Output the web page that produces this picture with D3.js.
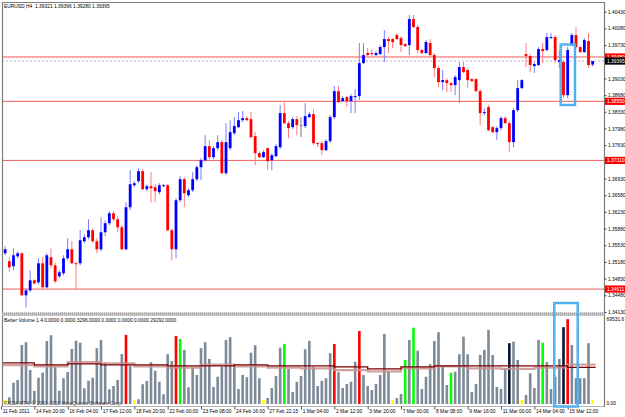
<!DOCTYPE html>
<html>
<head>
<meta charset="utf-8">
<script src="https://cdn.jsdelivr.net/npm/d3@7.9.0/dist/d3.min.js"></script>
<style>
html, body { margin: 0; padding: 0; background: #fff; }
svg { display: block; font-family: "Liberation Sans", Arial, sans-serif; }
</style>
</head>
<body>
<svg id="chart" width="625" height="417"></svg>
<script>
// EURUSD H4 candles, 11 Feb 2011 -> 15 Mar 2011
const opens = [
  1.35488,1.35362,1.35194,1.35089,1.35299,1.35362,1.34480,1.34585,1.34795,1.34753,
  1.35152,1.34648,1.35278,1.35110,1.34879,1.34942,1.35257,1.35446,1.35152,1.35152,
  1.35614,1.35698,1.35845,1.35614,1.35446,1.35803,1.35992,1.36202,1.36076,1.35908,
  1.35446,1.36328,1.36790,1.36874,1.37084,1.36706,1.36769,1.36748,1.36643,1.36769,
  1.36790,1.35845,1.35446,1.36475,1.36916,1.36580,1.36685,1.36916,1.37168,1.37315,
  1.37609,1.37378,1.37567,1.37693,1.37042,1.37567,1.37882,1.38008,1.38155,1.38197,
  1.38176,1.37819,1.37462,1.37378,1.37567,1.37315,1.37399,1.37588,1.38302,1.38092,
  1.38008,1.38176,1.38050,1.38029,1.38218,1.38281,1.37672,1.37672,1.37525,1.37714,
  1.38218,1.38764,1.38554,1.38638,1.38554,1.38638,1.38659,1.39352,1.39562,1.39562,
  1.39520,1.39541,1.39688,1.39856,1.39856,1.39940,1.39877,1.39751,1.39730,1.40276,
  1.40108,1.39625,1.39562,1.39772,1.39520,1.39247,1.38953,1.38995,1.38932,1.38890,
  1.38995,1.39268,1.39205,1.39016,1.39016,1.38764,1.38302,1.38428,1.38008,1.37903,
  1.37987,1.38197,1.38092,1.37693,1.38365,1.38827,1.39541,1.39499,1.39289,1.39310,
  1.39646,1.39625,1.39877,1.39898,1.39373,1.39373,1.38680,1.39730,1.39940,1.39688,
  1.39583,1.39814,1.39321
];
const highs = [
  1.35677,1.35509,1.35278,1.35467,1.35404,1.35383,1.34627,1.35005,1.34816,1.35257,
  1.35278,1.35362,1.35467,1.35173,1.35005,1.35320,1.35677,1.35614,1.35173,1.35845,
  1.35761,1.36076,1.35887,1.35677,1.36118,1.36055,1.36244,1.36244,1.36139,1.35950,
  1.36433,1.37105,1.36874,1.37147,1.37126,1.36811,1.37063,1.36811,1.36832,1.36811,
  1.36811,1.35887,1.36517,1.36979,1.36958,1.36727,1.37063,1.37210,1.37357,1.37840,
  1.37735,1.37609,1.37840,1.37735,1.38092,1.38155,1.38218,1.38323,1.38344,1.38239,
  1.38323,1.37903,1.37504,1.37525,1.37588,1.37462,1.37651,1.38470,1.38533,1.38134,
  1.38218,1.38239,1.38218,1.38512,1.38323,1.38386,1.37693,1.37714,1.37756,1.38260,
  1.38869,1.38869,1.38659,1.38659,1.38701,1.38806,1.39772,1.39772,1.39667,1.39646,
  1.39604,1.39730,1.40045,1.39898,1.39877,1.39982,1.39919,1.39772,1.40360,1.40360,
  1.40150,1.39646,1.39835,1.39856,1.39562,1.39289,1.39205,1.39037,1.38953,1.39100,
  1.39373,1.39373,1.39247,1.39037,1.39037,1.38806,1.38407,1.38470,1.38029,1.38029,
  1.38239,1.38239,1.38134,1.38407,1.38995,1.39016,1.39772,1.39541,1.39373,1.39688,
  1.39772,1.39982,1.39982,1.39940,1.39625,1.39415,1.39688,1.39982,1.40108,1.39709,
  1.39877,1.39982,1.39396
];
const lows = [
  1.35320,1.35320,1.34963,1.35005,1.35257,1.34459,1.34228,1.34543,1.34711,1.34711,
  1.34585,1.34627,1.35047,1.34732,1.34837,1.34900,1.35215,1.35131,1.34606,1.35110,
  1.35572,1.35656,1.35572,1.35362,1.35404,1.35719,1.35950,1.36034,1.35803,1.35425,
  1.35425,1.36265,1.36748,1.36832,1.36685,1.36664,1.36433,1.36433,1.36601,1.36748,
  1.35824,1.35215,1.35257,1.36433,1.36328,1.36538,1.36643,1.36874,1.36895,1.37273,
  1.37336,1.37336,1.37525,1.37021,1.37000,1.37525,1.37840,1.37987,1.38113,1.38134,
  1.37777,1.37210,1.37357,1.37357,1.37105,1.37105,1.37378,1.37546,1.38071,1.37777,
  1.37966,1.37840,1.37798,1.37987,1.38197,1.37630,1.37588,1.37420,1.37504,1.37672,
  1.38176,1.38512,1.38533,1.38428,1.38302,1.38302,1.38575,1.39331,1.39499,1.39478,
  1.39499,1.39520,1.39373,1.39562,1.39667,1.39835,1.39583,1.39688,1.39520,1.40087,
  1.39562,1.39541,1.39541,1.39499,1.39058,1.38848,1.38785,1.38743,1.38743,1.38680,
  1.38512,1.39142,1.38827,1.38953,1.38743,1.38050,1.38260,1.37924,1.37882,1.37735,
  1.37945,1.38071,1.37483,1.37588,1.38323,1.38806,1.39268,1.39163,1.39142,1.39289,
  1.39352,1.39604,1.39856,1.39352,1.39247,1.38617,1.38617,1.39709,1.39667,1.39562,
  1.39562,1.39247,1.39280
];
const closes = [
  1.35362,1.35446,1.35068,1.35320,1.35362,1.34480,1.34585,1.34795,1.34732,1.35152,
  1.34648,1.35320,1.35110,1.34774,1.34963,1.35257,1.35446,1.35152,1.35131,1.35635,
  1.35698,1.35845,1.35614,1.35446,1.35803,1.35992,1.36202,1.36076,1.35908,1.35446,
  1.36328,1.36811,1.36832,1.37084,1.36706,1.36769,1.36727,1.36664,1.36790,1.36790,
  1.35845,1.35446,1.36475,1.36916,1.36622,1.36685,1.36916,1.37168,1.37315,1.37609,
  1.37378,1.37567,1.37693,1.37042,1.37693,1.37903,1.38029,1.38155,1.38197,1.38155,
  1.37798,1.37462,1.37378,1.37483,1.37294,1.37420,1.37609,1.38302,1.38092,1.37987,
  1.38176,1.38050,1.38050,1.38239,1.38281,1.37672,1.37651,1.37525,1.37714,1.38218,
  1.38764,1.38533,1.38617,1.38554,1.38659,1.38659,1.39352,1.39520,1.39520,1.39541,
  1.39562,1.39688,1.39856,1.39814,1.39793,1.39856,1.39730,1.39709,1.40276,1.40108,
  1.39625,1.39562,1.39793,1.39520,1.39247,1.38953,1.38995,1.38932,1.38890,1.39058,
  1.39268,1.39163,1.38995,1.38974,1.38764,1.38302,1.38323,1.37945,1.37903,1.37987,
  1.38197,1.38092,1.37693,1.38365,1.38827,1.38995,1.39499,1.39310,1.39331,1.39646,
  1.39604,1.39898,1.39898,1.39415,1.39415,1.38680,1.39625,1.39940,1.39688,1.39583,
  1.39835,1.39310,1.39395
];

// Better Volume histogram
const volumes = [
  33000,3300,5400,17000,19200,47200,49400,27200,10400,21000,
  25000,50400,55000,29800,10600,20600,25600,44000,50600,49000,
  12600,18600,21000,44600,51200,33000,11800,14400,19200,40000,
  55200,30600,3300,3800,15800,18400,33400,26600,17800,7800,
  39800,34400,54400,52000,43200,13400,28600,23200,44600,49400,
  36000,13600,21800,29800,51200,53400,30400,12000,23200,21400,
  41000,47000,20600,3200,4800,12800,22400,45000,48000,28000,
  9600,17800,22400,43800,50400,29800,14400,18600,20600,40600,
  48000,25400,12800,16000,17800,33800,58400,23200,14400,11200,
  16000,23200,56000,25800,3300,4800,8000,35200,51200,61000,
  42600,12000,21800,31800,50400,57400,29800,15200,25000,25800,
  39800,53800,39800,9600,16000,39200,43200,59200,39200,13600,
  12000,28600,48600,49800,35200,3300,7200,24600,12800,51200,
  49000,33400,12000,21800,36000,61400,67800,47200,20600,20600,
  20600,48600,3296
];
const climaxIdx = [30, 42, 80, 86, 136];          // red
const churnIdx = [43, 68, 97, 99, 108, 130];       // green
const climaxChurnIdx = [122, 135];                 // black
const lowVolIdx = [1, 32, 63, 94, 125, 142];       // yellow

// average lines, one value per 8-bar block
const avgBlocks = [32800,31200,32000,31200,31200,30400,30400,31200,30400,30400,29600,28000,29600,30400,30400,30400,30400,29300];
const ma2Blocks = [31000,30000,33500,32500,30000,29000,31500,30000,29000,28500,27000,26000,28500,30000,28500,28000,29000,31500];

const timeLabels = ['11 Feb 2011','14 Feb 20:00','16 Feb 04:00','17 Feb 12:00','18 Feb 20:00','22 Feb 00:00',
  '23 Feb 08:00','24 Feb 16:00','27 Feb 22:15','1 Mar 04:00','2 Mar 12:00','3 Mar 20:00',
  '7 Mar 00:00','8 Mar 08:00','9 Mar 16:00','11 Mar 00:00','14 Mar 04:00','15 Mar 12:00'];
const priceTicks = [1.40430,1.40080,1.39730,1.39030,1.38680,1.38330,1.37980,1.37630,
  1.36930,1.36580,1.36230,1.35880,1.35530,1.35180,1.34830,1.34480,1.34130];
const levelLines = [1.39480, 1.38550, 1.37310, 1.34611];
const lastPrice = 1.39395;
const volMax = 69531.6;

const svg = d3.select('#chart');
const n = opens.length;

const x = d3.scaleLinear().domain([0, n - 1]).range([1, 1 + (n - 1) * 4.1667]);
const y = d3.scaleLinear().domain([1.34130, 1.40430]).range([312, 11.7]);
const vy = d3.scaleLinear().domain([0, volMax]).range([404, 317]);

const defs = svg.append('defs');
defs.append('clipPath').attr('id', 'clipMain')
  .append('rect').attr('x', 2.5).attr('y', 2.5).attr('width', 601.5).attr('height', 310);
defs.append('clipPath').attr('id', 'clipVol')
  .append('rect').attr('x', 2.5).attr('y', 316).attr('width', 601.5).attr('height', 90);

const bars = d3.range(n).map(i => ({ i, o: opens[i], h: highs[i], l: lows[i], c: closes[i], v: volumes[i] }));

// ---- main price panel ----
const main = svg.append('g').attr('clip-path', 'url(#clipMain)');

main.selectAll('line.level').data(levelLines).join('line')
  .attr('class', 'level')
  .attr('x1', 2).attr('x2', 604)
  .attr('y1', d => y(d)).attr('y2', d => y(d))
  .attr('stroke', '#f25c5c').attr('stroke-width', 1);

main.append('line')
  .attr('x1', 2).attr('x2', 604)
  .attr('y1', y(lastPrice)).attr('y2', y(lastPrice))
  .attr('stroke', '#9ea8c8').attr('stroke-width', 0.8)
  .attr('stroke-dasharray', '2,2');

const upCol = '#0000ff', downCol = '#ff0000', dojiCol = '#7a7a7a';
const colorOf = d => d.c > d.o ? upCol : d.c < d.o ? downCol : dojiCol;

main.selectAll('line.wick').data(bars).join('line')
  .attr('class', 'wick')
  .attr('x1', d => x(d.i)).attr('x2', d => x(d.i))
  .attr('y1', d => y(d.h)).attr('y2', d => y(d.l))
  .attr('stroke', d => d.c > d.o ? '#7c7cff' : d.c < d.o ? '#ff7c7c' : '#7a7a7a')
  .attr('stroke-width', 1);

main.selectAll('rect.body').data(bars).join('rect')
  .attr('class', 'body')
  .attr('x', d => x(d.i) - 1.4).attr('width', 2.8)
  .attr('y', d => y(Math.max(d.o, d.c)))
  .attr('height', d => Math.max(1, Math.abs(y(d.o) - y(d.c))))
  .attr('fill', colorOf);

// ---- volume panel ----
const vol = svg.append('g').attr('clip-path', 'url(#clipVol)');
const volColor = i => climaxIdx.includes(i) ? '#ff0000'
  : churnIdx.includes(i) ? '#00ff00'
  : climaxChurnIdx.includes(i) ? '#0b1530'
  : lowVolIdx.includes(i) ? '#ffff00' : '#7d8a98';

vol.selectAll('rect.vbar').data(bars).join('rect')
  .attr('class', 'vbar')
  .attr('x', d => x(d.i) - 1.3).attr('width', 2.6)
  .attr('y', d => vy(d.v)).attr('height', d => vy(0) - vy(d.v))
  .attr('fill', d => volColor(d.i));

const blockPts = arr => arr.map((v, k) => [x(k * 8), v]).concat([[x(n - 1) + 3, arr[arr.length - 1]]]);
const stepLine = d3.line().x(d => d[0]).y(d => vy(d[1])).curve(d3.curveStepAfter);

vol.append('path').attr('d', stepLine(blockPts(ma2Blocks)))
  .attr('fill', 'none').attr('stroke', '#c99090').attr('stroke-width', 2.2).attr('opacity', 0.85);
vol.append('path').attr('d', stepLine(blockPts(avgBlocks)))
  .attr('fill', 'none').attr('stroke', '#7a0000').attr('stroke-width', 1.3);

// ---- frame ----
const frame = '#7c7c7c';
svg.append('line').attr('x1', 2.5).attr('x2', 2.5).attr('y1', 2).attr('y2', 407).attr('stroke', frame).attr('stroke-width', 1.2);
svg.append('line').attr('x1', 2).attr('x2', 604.5).attr('y1', 2.5).attr('y2', 2.5).attr('stroke', frame).attr('stroke-width', 1.2);
svg.append('line').attr('x1', 604.5).attr('x2', 604.5).attr('y1', 2).attr('y2', 407).attr('stroke', frame).attr('stroke-width', 1.2);
svg.append('line').attr('x1', 2).attr('x2', 604.5).attr('y1', 406.5).attr('y2', 406.5).attr('stroke', '#a0a0a0').attr('stroke-width', 0.8);
svg.append('rect').attr('x', 2).attr('y', 312.6).attr('width', 602.5).attr('height', 3)
  .attr('fill', '#c4c4c4');
svg.append('line').attr('x1', 2).attr('x2', 604.5).attr('y1', 313).attr('y2', 313)
  .attr('stroke', '#8a8a8a').attr('stroke-width', 0.8).attr('stroke-dasharray', '1,1');
svg.append('line').attr('x1', 2).attr('x2', 604.5).attr('y1', 315.2).attr('y2', 315.2)
  .attr('stroke', '#8a8a8a').attr('stroke-width', 0.8).attr('stroke-dasharray', '1,1');

// ---- axes ----
const fs = 4.9;
const priceAxis = d3.axisRight(y).tickValues(priceTicks).tickSize(2).tickPadding(1.5)
  .tickFormat(d3.format('.5f'));
const pa = svg.append('g').attr('transform', 'translate(604.5,0)').call(priceAxis);
pa.select('.domain').remove();
pa.selectAll('text').attr('font-size', fs).attr('fill', '#000').attr('font-family', 'Liberation Sans, Arial, sans-serif');
pa.selectAll('line').attr('stroke', '#000').attr('stroke-width', 0.7);

const timeAxis = d3.axisBottom(x).tickValues(d3.range(0, timeLabels.length * 8, 8)).tickSize(3)
  .tickFormat((d, k) => timeLabels[k]);
const ta = svg.append('g').attr('transform', 'translate(0,406.5)').call(timeAxis);
ta.select('.domain').remove();
ta.selectAll('text').attr('font-size', fs).attr('fill', '#000').attr('text-anchor', 'start')
  .attr('x', 1.2).attr('y', 3.2).attr('dy', '0.75em').attr('font-family', 'Liberation Sans, Arial, sans-serif');
ta.selectAll('line').attr('stroke', '#000').attr('stroke-width', 0.7);

// price tags on the axis
const tags = levelLines.map(p => ({ p, fill: '#ff0000' })).concat([{ p: lastPrice, fill: '#000' }]);
const tagG = svg.append('g').selectAll('g').data(tags).join('g')
  .attr('transform', d => `translate(605,${y(d.p)})`);
tagG.append('rect').attr('x', 0).attr('y', -3.6).attr('width', 20).attr('height', 7.2).attr('fill', d => d.fill);
tagG.append('text').attr('x', 2).attr('y', 1.7).attr('font-size', fs).attr('fill', '#fff')
  .text(d => d3.format('.5f')(d.p));

// volume scale labels
svg.append('text').attr('x', 606.5).attr('y', 321.2).attr('font-size', fs).text(d3.format('.1f')(volMax));
svg.append('text').attr('x', 606.5).attr('y', 405).attr('font-size', fs).text('0.00');

// ---- titles ----
svg.append('text').attr('x', 4).attr('y', 7.6).attr('font-size', fs).style('white-space', 'pre')
  .text('EURUSD,H4  1.39321 1.39396 1.39280 1.39395');
svg.append('text').attr('x', 4).attr('y', 321.6).attr('font-size', fs)
  .text('Better Volume 1.4 0.0000 0.0000 3296.0000 0.0000 0.0000 0.0000 29292.0000');
svg.append('text').attr('x', 4).attr('y', 404.6).attr('font-size', fs).attr('fill', '#333')
  .text('FXCM MT4, \u00a9 2001-2010 MetaQuotes Software Corp.');

// ---- highlight boxes ----
const boxes = [
  { x0: 560.7, x1: 575, y0: 44.5, y1: 105 },
  { x0: 554.3, x1: 577.7, y0: 303, y1: 406.5 }
];
boxes.forEach(b => {
  svg.append('rect').attr('x', b.x0).attr('y', b.y0).attr('width', b.x1 - b.x0).attr('height', b.y1 - b.y0)
    .attr('fill', 'none').attr('stroke', '#3ea6ee').attr('stroke-width', 2.4);
  svg.append('rect').attr('x', b.x0).attr('y', b.y0).attr('width', b.x1 - b.x0).attr('height', b.y1 - b.y0)
    .attr('fill', 'none').attr('stroke', '#a8dcff').attr('stroke-width', 0.8).attr('stroke-dasharray', '1,1.5');
});
</script>
</body>
</html>
